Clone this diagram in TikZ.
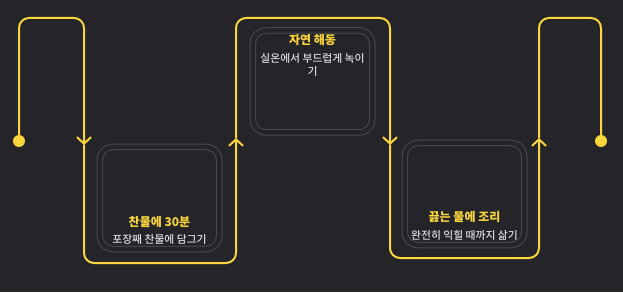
\documentclass[tikz,border=0pt]{standalone}
\usepackage{fontspec}
\setmainfont{Noto Sans CJK KR}
\newfontfamily\medkr{Noto Sans CJK KR Medium}
\usetikzlibrary{arrows.meta, positioning, calc}
\definecolor{bgdark}{RGB}{37,36,41}
\definecolor{wireyellow}{RGB}{250,214,60}
\definecolor{cardgray}{RGB}{74,73,80}
\definecolor{subgray}{RGB}{220,220,224}

\begin{document}
\begin{tikzpicture}[
  x=1pt, y=1pt,
  card/.style = {rectangle, rounded corners=13pt, draw=cardgray, line width=1pt,
                 double=bgdark, double distance=4.5pt,
                 minimum width=119.5pt, minimum height=102pt, inner sep=0pt},
  wire/.style = {wireyellow, line width=2pt, rounded corners=10pt},
  tip/.style  = {-{Straight Barb[length=6.5pt, width=14pt]}},
  ttl/.style  = {font=\fontsize{12}{14}\selectfont\bfseries, text=wireyellow, inner sep=0pt},
  sub/.style  = {font=\fontsize{10.8}{13}\selectfont\medkr, text=subgray, align=center, inner sep=0pt},
  dot/.style  = {circle, fill=wireyellow, minimum size=12pt, inner sep=0pt},
]

\fill[bgdark] (0,0) rectangle (623,292);
\useasboundingbox (0,0) rectangle (623,292);

% ── Steps ─────────────────────────────────────────────────────────────────────
\node[card] (cold) at (159.5,94)    {};
\node[card] (thaw) at (312.5,210.5) {};
\node[card] (boil) at (464.5,98)    {};

% ── Step labels ───────────────────────────────────────────────────────────────
\node[ttl] (coldTitle) at ($(cold.south)+(0,28)$)   {찬물에 30분};
\node[sub] (coldText)  at ($(cold.south)+(0,10)$)   {포장째 찬물에 담그기};

\node[ttl] (thawTitle) at ($(thaw.north)+(0,-10.5)$) {자연 해동};
\node[sub] (thawText)  at ($(thaw.north)+(0,-35)$)   {실온에서 부드럽게 녹이\\기};

\node[ttl] (boilTitle) at ($(boil.south)+(0,28)$)   {끓는 물에 조리};
\node[sub] (boilText)  at ($(boil.south)+(0,10)$)   {완전히 익힐 때까지 삶기};

% ── Wire ──────────────────────────────────────────────────────────────────────
\node[dot] (start) at (19,151)  {};
\node[dot] (stop)  at (601,151) {};

\coordinate (top)   at (0,274);
\coordinate (low1)  at (0,29);
\coordinate (low2)  at (0,34);
\coordinate (down1) at (84,147);
\coordinate (up1)   at (236,154);
\coordinate (down2) at (390,147);
\coordinate (up2)   at (539,154);

\draw[wire, tip] (start) |- (top -| down1) -- (down1);
\draw[wire, tip] (down1) |- (low1 -| up1)  -- (up1);
\draw[wire, tip] (up1)   |- (top -| down2) -- (down2);
\draw[wire, tip] (down2) |- (low2 -| up2)  -- (up2);
\draw[wire]      (up2)   |- (top -| stop)  -- (stop);

\end{tikzpicture}
\end{document}
